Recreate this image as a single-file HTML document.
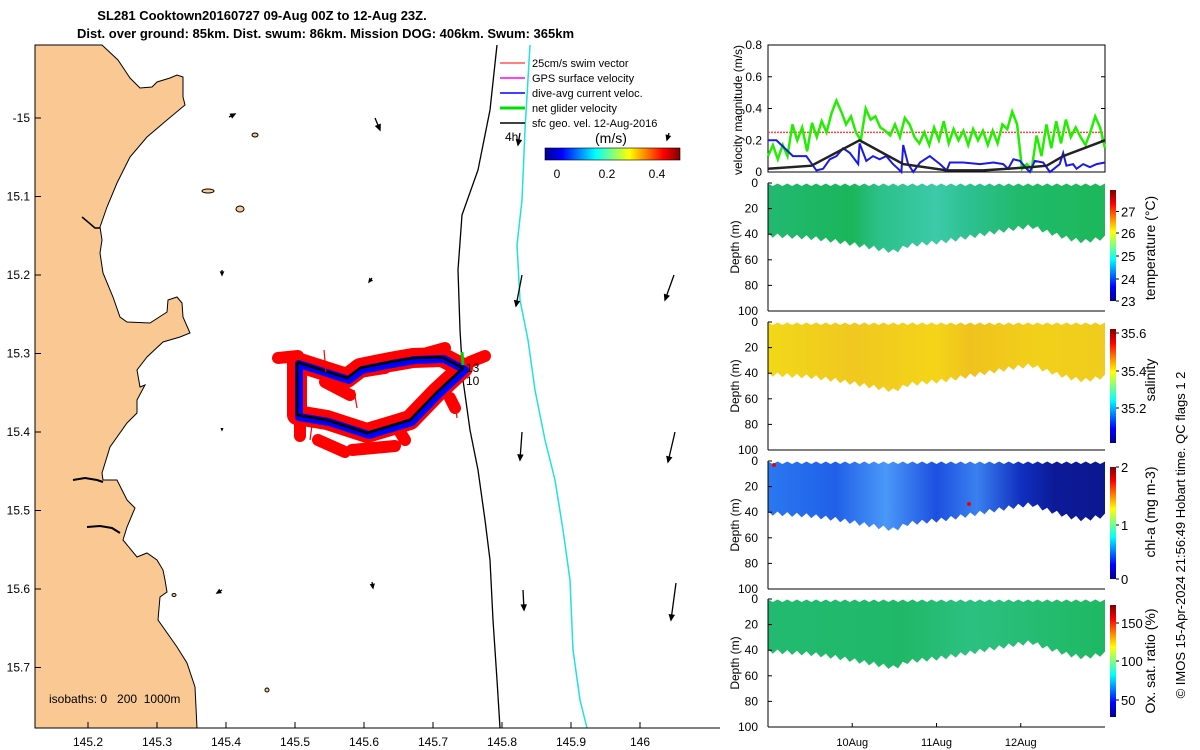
<!DOCTYPE html>
<html><head><meta charset="utf-8"><style>
body{margin:0;background:#fff;}
svg{display:block;font-family:"Liberation Sans",sans-serif;}
</style></head><body>
<svg id="fig" width="1200" height="750" viewBox="0 0 1200 750">
<defs>
<linearGradient id="jet" x1="0" x2="1" y1="0" y2="0">
<stop offset="0" stop-color="#00008f"/><stop offset="0.125" stop-color="#0000ff"/><stop offset="0.375" stop-color="#00ffff"/><stop offset="0.625" stop-color="#ffff00"/><stop offset="0.875" stop-color="#ff0000"/><stop offset="1" stop-color="#800000"/>
</linearGradient>
<linearGradient id="jetv" x1="0" x2="0" y1="1" y2="0">
<stop offset="0" stop-color="#00008f"/><stop offset="0.125" stop-color="#0000ff"/><stop offset="0.375" stop-color="#00ffff"/><stop offset="0.625" stop-color="#ffff00"/><stop offset="0.875" stop-color="#ff0000"/><stop offset="1" stop-color="#800000"/>
</linearGradient>
<linearGradient id="gT" x1="0" x2="1"><stop offset="0" stop-color="#22b872"/><stop offset="0.25" stop-color="#1ab65a"/><stop offset="0.33" stop-color="#2cc08a"/><stop offset="0.5" stop-color="#3ccaa8"/><stop offset="0.6" stop-color="#2cc090"/><stop offset="0.75" stop-color="#20ba6a"/><stop offset="1" stop-color="#1cb85a"/></linearGradient>
<linearGradient id="gS" x1="0" x2="1"><stop offset="0" stop-color="#f2d818"/><stop offset="0.25" stop-color="#f0c820"/><stop offset="0.5" stop-color="#f4d418"/><stop offset="0.6" stop-color="#f0c21e"/><stop offset="0.8" stop-color="#f2d01a"/><stop offset="1" stop-color="#f0cc1c"/></linearGradient>
<linearGradient id="gC" x1="0" x2="1"><stop offset="0" stop-color="#2a78f0"/><stop offset="0.2" stop-color="#2060e8"/><stop offset="0.35" stop-color="#4a98f8"/><stop offset="0.5" stop-color="#1c50e0"/><stop offset="0.62" stop-color="#3a80f0"/><stop offset="0.75" stop-color="#1030c0"/><stop offset="0.85" stop-color="#0c1a98"/><stop offset="1" stop-color="#0c1890"/></linearGradient>
<linearGradient id="gO" x1="0" x2="1"><stop offset="0" stop-color="#22ba70"/><stop offset="0.4" stop-color="#20b868"/><stop offset="0.6" stop-color="#2cc080"/><stop offset="1" stop-color="#1eb862"/></linearGradient>
</defs>

<text x="262" y="20" font-size="13" font-weight="bold" text-anchor="middle">SL281 Cooktown20160727 09-Aug 00Z to 12-Aug 23Z.</text>
<text x="77" y="38" font-size="13" font-weight="bold">Dist. over ground: 85km. Dist. swum: 86km. Mission DOG: 406km. Swum: 365km</text>

<g>
<path fill="#fac993" stroke="#000" stroke-width="1" d="M35,45 L102,45 L118,60 L130,78 L140,88 L152,87 L157,82 L170,78 L177,75 L183,77 L183,97 L185,105 L167,120 L147,137 L130,157 L117,183 L107,207 L100,227 L102,240 L100,253 L103,273 L113,297 L120,317 L127,322 L150,323 L167,312 L168,300 L177,297 L182,303 L183,317 L190,333 L180,337 L163,342 L147,357 L137,370 L140,387 L145,385 L137,400 L137,413 L127,423 L110,447 L102,473 L103,480 L117,480 L122,490 L127,500 L135,508 L127,527 L123,540 L137,557 L147,553 L157,560 L163,570 L165,580 L167,592 L160,597 L158,620 L170,637 L177,647 L187,663 L195,687 L197,728 L35,728 Z"/>
<path d="M73,480 L85,478 L97,480 L103,482" stroke="#000" stroke-width="2" fill="none"/>
<path d="M87,527 L100,526 L112,528 L120,533" stroke="#000" stroke-width="2" fill="none"/>
<path d="M82,217 L88,222 L95,228 L100,228" stroke="#000" stroke-width="1.5" fill="none"/>
<g fill="#fac993" stroke="#000" stroke-width="1">
<ellipse cx="208" cy="191" rx="6" ry="2"/><ellipse cx="240" cy="209" rx="4" ry="3"/><ellipse cx="255" cy="135" rx="3" ry="2"/><ellipse cx="174" cy="595" rx="2" ry="1.5"/><ellipse cx="267" cy="690" rx="2" ry="2"/>
</g>
<path d="M497,45 L490,110 L478,170 L462,215 L458,270 L460,330 L463,380 L470,430 L478,470 L485,520 L490,560 L493,620 L497,680 L500,728" stroke="#000" stroke-width="1.3" fill="none"/>
<path d="M530,45 L525,130 L522,200 L517,245 L520,300 L528,340 L535,390 L545,440 L555,480 L563,530 L570,580 L573,650 L580,700 L587,728" stroke="#20e0e0" stroke-width="1.5" fill="none"/>
<g id="vectors" stroke="#000" stroke-width="1.3" fill="#000"></g>
<g>
<path d="M297,362 L347,378 L360,368 L390,362 L413,358 L442,357 L463,368 L437,392 L410,420 L367,433 L327,420 L297,415 Z" fill="none" stroke="#f00" stroke-width="20" stroke-linejoin="round"/>
<path d="M278,358 L298,356 M325,382 L350,395 M318,440 L345,452 M352,450 L395,446 M470,362 L485,356 M450,398 L455,408 M360,372 L385,368 M420,355 L445,348 M300,425 L300,436 M400,432 L405,440" stroke="#f00" stroke-width="12" stroke-linecap="round"/>
<path d="M297,362 L347,378 L360,368 L390,362 L413,358 L442,357 L463,368 L437,392 L410,420 L367,433 L327,420 L297,415 Z" fill="none" stroke="#00f" stroke-width="8" stroke-linejoin="round" transform="translate(2,2)"/>
<path d="M297,362 L347,378 L360,368 L390,362 L413,358 L442,357 L463,368 L437,392 L410,420 L367,433 L327,420 L297,415 Z" fill="none" stroke="#000" stroke-width="2.5" stroke-linejoin="round"/>
<path d="M324,350 L326,372 M354,390 L357,408 M310,440 L312,425 M455,400 L457,418" stroke="#f00" stroke-width="1.2"/>
<path d="M462,352 L463,365" stroke="#0c0" stroke-width="3"/>
<text x="466" y="372" font-size="12">13</text>
<text x="466" y="385" font-size="12">10</text>
</g>
<text x="49" y="703" font-size="12" xml:space="preserve" style="white-space:pre">isobaths: 0   200  1000m</text>
<line x1="35" y1="45" x2="35" y2="728" stroke="#000"/>
<line x1="35" y1="728" x2="720" y2="728" stroke="#000"/>
<g id="mapticks" font-size="12"></g>
<g font-size="11">
<line x1="500" y1="63" x2="525" y2="63" stroke="#f00"/><text x="532" y="67">25cm/s swim vector</text>
<line x1="500" y1="78" x2="525" y2="78" stroke="#f0f" stroke-width="1.5"/><text x="532" y="82">GPS surface velocity</text>
<line x1="500" y1="93" x2="525" y2="93" stroke="#00f" stroke-width="1.5"/><text x="532" y="97">dive-avg current veloc.</text>
<line x1="500" y1="108" x2="525" y2="108" stroke="#0d0" stroke-width="3"/><text x="532" y="112">net glider velocity</text>
<line x1="500" y1="123" x2="525" y2="123" stroke="#000" stroke-width="1.5"/><text x="532" y="127">sfc geo. vel. 12-Aug-2016</text>
<text x="505" y="141" font-size="12">4h</text>
<text x="595" y="143" font-size="14">(m/s)</text>
<rect x="545" y="148" width="135" height="12" fill="url(#jet)" stroke="#000" stroke-width="0.6"/>
<text x="557" y="178" font-size="12" text-anchor="middle">0</text><text x="607" y="178" font-size="12" text-anchor="middle">0.2</text><text x="657" y="178" font-size="12" text-anchor="middle">0.4</text>
</g>
</g>

<g id="right"></g>
</svg>
<script>
var NS='http://www.w3.org/2000/svg';
function mk(tag,attrs,parent,txt){var e=document.createElementNS(NS,tag);for(var k in attrs)e.setAttribute(k,attrs[k]);if(txt!==undefined)e.textContent=txt;parent.appendChild(e);return e;}

var lonTicks=['145.2','145.3','145.4','145.5','145.6','145.7','145.8','145.9','146'];
var latTicks=['-15','15.1','15.2','15.3','15.4','15.5','15.6','15.7'];
function lonX(v){return 88+(v-145.2)*690;}
function latY(i){return 118+i*78.5;}
var mt=document.getElementById('mapticks');
lonTicks.forEach(function(t){var x=lonX(parseFloat(t));
var l=mk('line',{x1:x,y1:728,x2:x,y2:722,stroke:'#000'},mt);


var tx=mk('text',{x:x,y:746,'text-anchor':'middle'},mt,t);

});
latTicks.forEach(function(t,i){var y=latY(i);
var l=mk('line',{x1:35,y1:y,x2:41,y2:y,stroke:'#000'},mt);


var tx=mk('text',{x:30,y:y+4,'text-anchor':'end'},mt,t);

});

var vecStart=[[229,117],[375,118],[520,133],[669,133],[222,270],[372,278],[522,275],[674,275],[222,428],[522,432],[675,432],[222,590],[372,582],[523,590],[676,583]];
var vecDelta=[[6,-3],[5,12],[-2,12],[-2,7],[0,5],[-3,4],[-6,31],[-9,25],[0,2],[-2,28],[-7,30],[-5,3],[1,6],[1,20],[-5,37]];
var vg=document.getElementById('vectors');
vecStart.forEach(function(s,i){var d=vecDelta[i];var x2=s[0]+d[0],y2=s[1]+d[1];
var g=mk('g',{},vg);


mk('line',{x1:s[0],y1:s[1],x2:x2,y2:y2},g);
var L=Math.sqrt(d[0]*d[0]+d[1]*d[1]),ux=d[0]/L,uy=d[1]/L,h=Math.min(5,L*0.6);
mk('polygon',{points:x2+','+y2+' '+(x2-h*ux-h*0.45*uy)+','+(y2-h*uy+h*0.45*ux)+' '+(x2-h*ux+h*0.45*uy)+','+(y2-h*uy-h*0.45*ux)},g);});

var greenVals=[0.1,0.17,0.08,0.17,0.1,0.3,0.2,0.28,0.13,0.31,0.22,0.32,0.25,0.37,0.45,0.38,0.3,0.35,0.25,0.2,0.4,0.33,0.35,0.28,0.26,0.23,0.3,0.22,0.34,0.3,0.22,0.18,0.25,0.17,0.28,0.2,0.32,0.18,0.27,0.2,0.26,0.17,0.27,0.2,0.26,0.17,0.26,0.18,0.3,0.27,0.38,0.3,0.02,0.05,0.02,0.23,0.1,0.3,0.15,0.32,0.18,0.33,0.22,0.28,0.22,0.17,0.25,0.35,0.28,0.15];
var blueHours=[0,2.4,4.3,7.1,10.9,13.8,15.7,17.6,19.5,21.4,23.3,25.7,26.1,28.0,29.9,31.8,33.7,35.6,37.1,38.0,38.5,39.9,41.4,43.3,46.1,49.0,50.9,51.8,55.6,60.4,64.2,67.0,68.4,69.9,71.8,73.7,74.6,76.0,78.4,80.3,83.1,84.1,85.0,86.9,87.9,89.8,91.7,93.6,96];
var blueVals=[0.2,0.2,0.16,0.1,0.1,0.01,0.02,0.08,0.1,0.15,0.12,0.05,0.18,0.07,0.1,0.08,0.1,0.05,0.02,0.0,0.17,0.05,0.0,0.06,0.1,0.05,0.01,0.06,0.06,0.05,0.06,0.05,0.02,0.08,0.07,0.02,0.0,0.07,0.06,0.0,0.05,0.12,0.04,0.05,0.02,0.05,0.03,0.05,0.06];
var blackHours=[0,12.4,26.1,38.5,50.9,61.3,74.6,79.4,84.1,96];
var blackVals=[0.02,0.04,0.2,0.05,0.01,0.01,0.03,0.04,0.1,0.2];
var swimSpeed=0.25;
var velTicks=['0','0.2','0.4','0.6','0.8'];
var dayTicks=['10Aug','11Aug','12Aug'];
var depthHours=[0,6,12,20,30,36,40,50,60,70,75,80,86,90,96];
var diveDepth=[40,41,42,45,50,53,48,45,40,35,33,38,43,45,42];
var depthTicks=['0','20','40','60','80','100'];

var X0=768,X1=1105;
function tx(h){return X0+(X1-X0)*h/96;}
function vy(v){return 172-v*158.75;}
var R=document.getElementById('right');

var vp=mk('g',{},R);


var fr=mk('rect',{x:X0,y:45,width:X1-X0,height:127,fill:'#fff',stroke:'#000'},vp);


velTicks.forEach(function(t){var y=vy(parseFloat(t));
mk('line',{x1:X0,y1:y,x2:X0+4,y2:y,stroke:'#000'},vp);mk('line',{x1:X1,y1:y,x2:X1-4,y2:y,stroke:'#000'},vp);
var e=mk('text',{x:762,y:y+4,'font-size':12,'text-anchor':'end'},vp,t);

});
var sl=mk('line',{x1:X0,y1:vy(swimSpeed),x2:X1,y2:vy(swimSpeed),stroke:'#f44','stroke-width':1.5,'stroke-dasharray':'2,1'},vp);


var gp=greenVals.map(function(v,i){return tx(96*i/(greenVals.length-1)).toFixed(1)+','+vy(v).toFixed(1);}).join(' ');
var gl=mk('polyline',{points:gp,fill:'none',stroke:'#22ee00','stroke-width':2.5},vp);


var bp=blueHours.map(function(h,i){return tx(h).toFixed(1)+','+vy(blueVals[i]).toFixed(1);}).join(' ');
var bl=mk('polyline',{points:bp,fill:'none',stroke:'#1a1ae8','stroke-width':2},vp);


var kp=blackHours.map(function(h,i){return tx(h).toFixed(1)+','+vy(blackVals[i]).toFixed(1);}).join(' ');
var kl=mk('polyline',{points:kp,fill:'none',stroke:'#222','stroke-width':2.5},vp);


var yl=mk('text',{x:0,y:0,'font-size':12,'text-anchor':'middle',transform:'translate(742,110) rotate(-90)'},vp,'velocity magnitude (m/s)');



var panels=[
 {top:183,fill:'url(#gT)',name:'temperature',cb:[190,301],ticks:[['27',211.5],['26',233],['25',256],['24',279],['23',301]],label:'temperature (°C)',ly:248},
 {top:322,fill:'url(#gS)',name:'salinity',cb:[329,443],ticks:[['35.6',333],['35.4',371],['35.2',408]],label:'salinity',ly:380},
 {top:461,fill:'url(#gC)',name:'chlorophyll',cb:[467,579],ticks:[['2',467],['1',525],['0',579]],label:'chl-a (mg m-3)',ly:512},
 {top:599,fill:'url(#gO)',name:'oxygen',cb:[605,717],ticks:[['150',623],['100',661],['50',700]],label:'Ox. sat. ratio (%)',ly:661}
];
function interp(h){for(var i=1;i<depthHours.length;i++){if(h<=depthHours[i]){var f=(h-depthHours[i-1])/(depthHours[i]-depthHours[i-1]);return diveDepth[i-1]+f*(diveDepth[i]-diveDepth[i-1]);}}return diveDepth[diveDepth.length-1];}
panels.forEach(function(p){
 var H=128; function dy(d){return p.top+d*H/100;}
 var g=mk('g',{},R);
 
 
 var pts=[];var n=70;
 for(var i=0;i<=n;i++){var x=X0+(X1-X0)*i/n;pts.push(x.toFixed(1)+','+(p.top+(i%2?3:0.5)));}
 var bot=[];
 for(var k=n;k>=0;k--){var h=96*k/n;var d=interp(h);bot.push(tx(h).toFixed(1)+','+dy(d+(k%2?2.5:-1)).toFixed(1));}
 var poly=mk('polygon',{points:pts.concat(bot).join(' '),fill:p.fill},g);
 
 
 mk('line',{x1:X0,y1:p.top,x2:X0,y2:p.top+H,stroke:'#000'},g);
 mk('line',{x1:X0,y1:p.top+H,x2:X1,y2:p.top+H,stroke:'#000'},g);
 depthTicks.forEach(function(t){var y=dy(parseFloat(t));
  mk('line',{x1:X0,y1:y,x2:X0+4,y2:y,stroke:'#000'},g);
  var e=mk('text',{x:758,y:y+4,'font-size':12,'text-anchor':'end'},g,t);
  
  });
 var dl=mk('text',{x:0,y:0,'font-size':12,'text-anchor':'middle',transform:'translate(739,'+(p.top+64)+') rotate(-90)'},g,'Depth (m)');
 
 
 var cb=mk('rect',{x:1110,y:p.cb[0],width:6,height:p.cb[1]-p.cb[0],fill:'url(#jetv)'},g);
 
 
 p.ticks.forEach(function(t){mk('line',{x1:1116,y1:t[1],x2:1119,y2:t[1],stroke:'#000'},g);
  var e=mk('text',{x:1121,y:t[1]+5,'font-size':13},g,t[0]);
  
  });
 var cl=mk('text',{x:0,y:0,'font-size':14,'text-anchor':'middle',transform:'translate(1155,'+p.ly+') rotate(-90)'},g,p.label);
 
 
});
var rd=mk('circle',{cx:774,cy:465,r:2,fill:'#e00'},R);


var rd2=mk('circle',{cx:969,cy:504,r:2,fill:'#e00'},R);


dayTicks.forEach(function(t,i){var x=tx(24*(i+1));
 mk('line',{x1:x,y1:727,x2:x,y2:723,stroke:'#000'},R);
 var e=mk('text',{x:x,y:746,'font-size':11,'text-anchor':'middle'},R,t);
 
 });
var cr=mk('text',{x:0,y:0,'font-size':13,'text-anchor':'middle',transform:'translate(1185,535) rotate(-90)'},R,'© IMOS 15-Apr-2024 21:56:49 Hobart time. QC flags 1  2');


</script>
</body></html>
